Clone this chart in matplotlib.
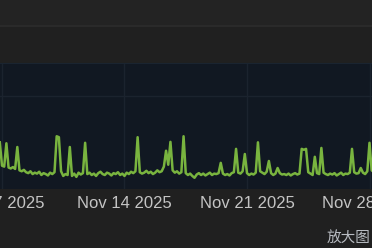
import matplotlib
matplotlib.use('Agg')
import matplotlib.pyplot as plt
from matplotlib.patches import Rectangle
from datetime import datetime, timedelta

# series sampled every 3 hours, starting Nov 6 2025 21:00
start = datetime(2025, 11, 6, 21, 0)
step_hours = 3
values = [
    500, 250, 240, 490, 230, 220, 235, 215, 450, 200,
    190, 205, 180, 170, 190, 160, 175, 165, 185, 150,
    170, 160, 145, 175, 160, 180, 565, 555, 190, 140,
    160, 150, 450, 140, 165, 130, 175, 155, 170, 495,
    160, 175, 150, 165, 140, 170, 185, 160, 150, 175,
    165, 145, 170, 160, 180, 150, 165, 140, 175, 160,
    185, 170, 190, 555, 180, 165, 175, 195, 170, 185,
    160, 175, 200, 180, 190, 240, 410, 260, 505, 200,
    175, 190, 165, 180, 565, 170, 150, 165, 140, 120,
    155, 170, 150, 165, 145, 160, 175, 150, 165, 160,
    170, 280, 165, 150, 160, 145, 170, 180, 430, 175,
    165, 190, 375, 170, 150, 165, 155, 175, 500, 190,
    175, 160, 185, 300, 170, 150, 165, 225, 170, 155,
    160, 150, 165, 145, 160, 170, 155, 165, 430, 420,
    430, 180, 165, 150, 345, 170, 160, 440, 175, 160,
    150, 165, 155, 170, 145, 160, 175, 150, 165, 160,
    175, 430, 180, 165, 170, 225, 175, 160, 190, 495,
    200, 180,
]
times = [start + timedelta(hours=step_hours * i) for i in range(len(values))]

tick_dates = [datetime(2025, 11, 7), datetime(2025, 11, 14),
              datetime(2025, 11, 21), datetime(2025, 11, 28)]
tick_labels = ['Nov 7 2025', 'Nov 14 2025', 'Nov 21 2025', 'Nov 28 2025']

W, H = 372, 248
fig = plt.figure(figsize=(W / 100, H / 100), dpi=100)
fig.patch.set_facecolor('#202020')

# top strip of the page
fig.add_artist(Rectangle((0, 1 - 25 / H), 1, 25 / H, transform=fig.transFigure,
                         facecolor='#232323', edgecolor='none'))
fig.add_artist(Rectangle((0, 1 - 27 / H), 1, 2 / H, transform=fig.transFigure,
                         facecolor='#2a2a2a', edgecolor='none'))

ax = fig.add_axes([0, 1 - 189 / H, 1, (189 - 63) / H])
ax.set_facecolor('#111822')

ax.plot(times, values, color='#79b43f', linewidth=1.8, solid_joinstyle='round')

x0 = datetime(2025, 11, 7) - timedelta(hours=2 * 24 / 17.5)
x1 = x0 + timedelta(hours=W * 24 / 17.5)
ax.set_xlim(x0, x1)
ax.set_ylim(0, 1350)

ax.set_xticks(tick_dates)
ax.set_xticklabels(tick_labels)
ax.set_yticks([1000])
ax.set_yticklabels([])
ax.grid(True, color='#1b232e', linewidth=1.0)
ax.tick_params(axis='x', length=0, pad=5, labelsize=12, labelcolor='#c4c4c4')
ax.tick_params(axis='y', length=0)
for lab in ax.get_xticklabels():
    lab.set_fontfamily('Liberation Sans')
for s in ax.spines.values():
    s.set_visible(False)
ax.spines['top'].set_visible(True)
ax.spines['top'].set_color('#1a2430')

fig.text(327 / W, 1 - 238 / H, '放大图', color='#b8bcc2', fontsize=10.5,
         family=['Noto Sans CJK SC', 'DejaVu Sans'], va='center', ha='left')

fig.savefig('out.png', dpi=100, facecolor=fig.get_facecolor())
